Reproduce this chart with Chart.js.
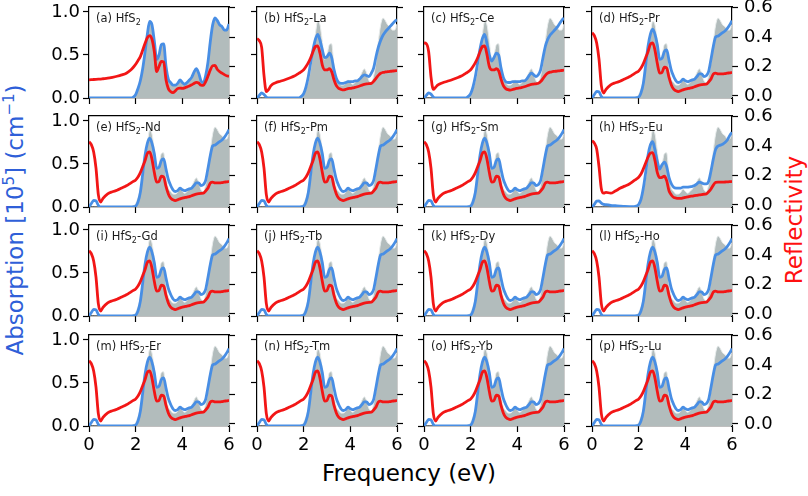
<!DOCTYPE html>
<html>
<head>
<meta charset="utf-8">
<script src="https://cdn.jsdelivr.net/npm/chart.js@4.4.1/dist/chart.umd.min.js"></script>
<style>
  body { margin: 0; background: #fff; }
  #wrap { position: relative; width: 808px; height: 496px; overflow: hidden; font-family: "DejaVu Sans", sans-serif; }
  #wrap canvas { position: absolute; }
  .lbl { position: absolute; font-size: 23px; line-height: 1; white-space: nowrap; transform: translate(-50%, -50%); }
  .rot { transform: translate(-50%, -50%) rotate(-90deg); }
  sup { font-size: 15px; line-height: 0; }
</style>
</head>
<body>
<div id="wrap">
  <div class="lbl rot" style="left:15px; top:220px; color:#2f5fd8">Absorption [10<sup>5</sup>] (cm<sup>−1</sup>)</div>
  <div class="lbl rot" style="left:794px; top:220px; color:#ff1010">Reflectivity</div>
  <div class="lbl" style="left:409px; top:473px; color:#000">Frequency (eV)</div>
</div>
<script>
// photon energy grid (eV)
const freq = [0, 0.1, 0.2, 0.3, 0.4, 0.5, 0.6, 0.8, 1.0, 1.2, 1.4, 1.6, 1.8, 1.9,
  2.0, 2.1, 2.2, 2.3, 2.4, 2.5, 2.6, 2.7, 2.8, 2.9,
  3.0, 3.1, 3.2, 3.3, 3.4, 3.5, 3.6, 3.7, 3.8, 3.9,
  4.0, 4.1, 4.2, 4.3, 4.4, 4.5, 4.6, 4.7, 4.8, 4.9,
  5.0, 5.1, 5.2, 5.3, 5.4, 5.5, 5.6, 5.7, 5.8, 5.9, 6.0];

// pristine HfS2 (grey area in every panel)
const hfs2Abs = [0, 0, 0, 0, 0, 0, 0, 0, 0, 0, 0, 0, 0, 0.01,
  0.04, 0.11, 0.2, 0.34, 0.53, 0.74, 0.89, 0.85, 0.66, 0.45,
  0.5, 0.62, 0.63, 0.37, 0.22, 0.18, 0.15, 0.15, 0.17, 0.21,
  0.18, 0.16, 0.18, 0.21, 0.24, 0.3, 0.34, 0.29, 0.2, 0.18,
  0.26, 0.42, 0.66, 0.85, 0.93, 0.9, 0.85, 0.83, 0.79, 0.79, 0.86];
const hfs2Refl = [0.11, 0.111, 0.112, 0.113, 0.114, 0.115, 0.117, 0.121, 0.127, 0.134, 0.143, 0.155, 0.178, 0.195,
  0.215, 0.24, 0.267, 0.31, 0.357, 0.395, 0.41, 0.385, 0.3, 0.165,
  0.2, 0.235, 0.23, 0.11, 0.05, 0.03, 0.023, 0.035, 0.05, 0.053,
  0.052, 0.055, 0.062, 0.068, 0.076, 0.085, 0.093, 0.088, 0.073, 0.072,
  0.097, 0.135, 0.177, 0.205, 0.207, 0.18, 0.165, 0.155, 0.145, 0.137, 0.133];

// La doped
const laAbs = [0, 0.03, 0.06, 0.04, 0.01, 0, 0, 0, 0, 0, 0, 0, 0, 0.02,
  0.05, 0.13, 0.25, 0.41, 0.56, 0.68, 0.74, 0.67, 0.56, 0.47,
  0.48, 0.52, 0.47, 0.33, 0.23, 0.18, 0.17, 0.17, 0.18, 0.19,
  0.19, 0.19, 0.2, 0.2, 0.22, 0.25, 0.27, 0.26, 0.25, 0.29,
  0.35, 0.48, 0.59, 0.67, 0.73, 0.77, 0.8, 0.83, 0.86, 0.89, 0.91];
const laRefl = [0.39, 0.375, 0.33, 0.14, 0.03, 0.045, 0.07, 0.09, 0.1, 0.11, 0.122, 0.135, 0.155, 0.165,
  0.178, 0.2, 0.226, 0.26, 0.3, 0.335, 0.34, 0.29, 0.21, 0.178,
  0.177, 0.185, 0.165, 0.11, 0.07, 0.052, 0.045, 0.041, 0.045, 0.05,
  0.052, 0.055, 0.058, 0.063, 0.068, 0.074, 0.079, 0.082, 0.084, 0.086,
  0.1, 0.12, 0.14, 0.154, 0.16, 0.163, 0.165, 0.167, 0.169, 0.171, 0.172];

// Ce doped
const ceAbs = [0, 0.03, 0.06, 0.045, 0.01, 0, 0, 0, 0, 0, 0, 0, 0, 0.02,
  0.05, 0.13, 0.25, 0.41, 0.57, 0.69, 0.74, 0.63, 0.5, 0.43,
  0.47, 0.52, 0.5, 0.35, 0.24, 0.19, 0.18, 0.18, 0.19, 0.19,
  0.19, 0.19, 0.2, 0.2, 0.22, 0.26, 0.29, 0.27, 0.25, 0.27,
  0.33, 0.47, 0.6, 0.68, 0.73, 0.76, 0.79, 0.82, 0.86, 0.9, 0.93];
const ceRefl = [0.36, 0.355, 0.3, 0.13, 0.045, 0.06, 0.075, 0.09, 0.1, 0.11, 0.122, 0.135, 0.155, 0.165,
  0.178, 0.2, 0.226, 0.26, 0.3, 0.335, 0.34, 0.28, 0.2, 0.178,
  0.177, 0.185, 0.17, 0.115, 0.07, 0.05, 0.043, 0.04, 0.044, 0.049,
  0.052, 0.055, 0.058, 0.063, 0.068, 0.074, 0.079, 0.081, 0.083, 0.086,
  0.098, 0.118, 0.14, 0.155, 0.162, 0.165, 0.167, 0.169, 0.171, 0.173, 0.175];

// Eu doped
const euAbs = [0, 0.03, 0.068, 0.07, 0.045, 0.03, 0.027, 0.02, 0.015, 0.01, 0.006, 0.005, 0.005, 0.01,
  0.03, 0.09, 0.22, 0.4, 0.6, 0.72, 0.76, 0.66, 0.53, 0.44,
  0.49, 0.52, 0.47, 0.345, 0.27, 0.23, 0.22, 0.22, 0.22, 0.23,
  0.23, 0.23, 0.235, 0.24, 0.25, 0.27, 0.29, 0.28, 0.27, 0.27,
  0.3, 0.42, 0.56, 0.67, 0.71, 0.72, 0.73, 0.75, 0.78, 0.83, 0.87];
const euRefl = [0.437, 0.42, 0.38, 0.26, 0.11, 0.08, 0.086, 0.08, 0.095, 0.113, 0.128, 0.143, 0.165, 0.176,
  0.188, 0.21, 0.245, 0.285, 0.324, 0.352, 0.355, 0.3, 0.22, 0.186,
  0.188, 0.195, 0.165, 0.097, 0.068, 0.052, 0.047, 0.045, 0.045, 0.048,
  0.052, 0.055, 0.059, 0.061, 0.064, 0.066, 0.068, 0.07, 0.073, 0.075,
  0.09, 0.109, 0.135, 0.154, 0.155, 0.155, 0.155, 0.156, 0.157, 0.158, 0.16];

// other lanthanides (Pr, Nd, Pm, Sm, Gd ... Lu) look alike
const lnAbs = [0, 0.04, 0.077, 0.07, 0.02, 0, 0, 0, 0, 0, 0, 0, 0, 0.005,
  0.01, 0.06, 0.17, 0.38, 0.6, 0.74, 0.8, 0.74, 0.62, 0.45,
  0.46, 0.54, 0.56, 0.44, 0.32, 0.25, 0.2, 0.18, 0.19, 0.22,
  0.2, 0.19, 0.2, 0.21, 0.22, 0.25, 0.28, 0.28, 0.25, 0.26,
  0.31, 0.45, 0.6, 0.71, 0.72, 0.74, 0.76, 0.78, 0.81, 0.85, 0.9];
const lnRefl = [0.43, 0.41, 0.36, 0.25, 0.07, 0.02, 0.045, 0.076, 0.09, 0.1, 0.115, 0.13, 0.15, 0.16,
  0.17, 0.19, 0.22, 0.26, 0.3, 0.35, 0.36, 0.31, 0.22, 0.155,
  0.16, 0.195, 0.19, 0.126, 0.075, 0.046, 0.035, 0.03, 0.035, 0.042,
  0.046, 0.05, 0.054, 0.057, 0.063, 0.069, 0.074, 0.077, 0.079, 0.08,
  0.095, 0.115, 0.15, 0.155, 0.15, 0.15, 0.15, 0.152, 0.155, 0.157, 0.16];

const panelLetters = ['a', 'b', 'c', 'd', 'e', 'f', 'g', 'h', 'i', 'j', 'k', 'l', 'm', 'n', 'o', 'p'];
const dopants = ['', 'La', 'Ce', 'Pr', 'Nd', 'Pm', 'Sm', 'Eu', 'Gd', 'Tb', 'Dy', 'Ho', 'Er', 'Tm', 'Yb', 'Lu'];
const panelAbs = [hfs2Abs, laAbs, ceAbs, lnAbs, lnAbs, lnAbs, lnAbs, euAbs,
  lnAbs, lnAbs, lnAbs, lnAbs, lnAbs, lnAbs, lnAbs, lnAbs];
const panelRefl = [hfs2Refl, laRefl, ceRefl, lnRefl, lnRefl, lnRefl, lnRefl, euRefl,
  lnRefl, lnRefl, lnRefl, lnRefl, lnRefl, lnRefl, lnRefl, lnRefl];

const freqTicks = [0, 2, 4, 6];
const absTicks = [0, 0.5, 1.0];
const reflTicks = [0, 0.2, 0.4, 0.6];

// layout of the 4x4 grid (plot areas)
const colLeft = [89, 257, 424, 592];
const rowTop = [7, 116, 225, 335];
const PLOT_W = 140, PLOT_H = 91;
const PAD_L = 50, PAD_R = 50, PAD_T = 12, PAD_B = 34;

const BLUE = 'rgb(72,142,228)';
const RED = 'rgb(242,22,22)';
const GREY = 'rgb(178,188,188)';
const TICK_FONT = { family: 'DejaVu Sans', size: 18 };

function toXY(arr) {
  return arr.map((v, i) => ({ x: freq[i], y: v }));
}

// label like "(b) HfS2-La" inside the top left corner
const panelTitle = {
  id: 'panelTitle',
  afterDraw(chart, args, opts) {
    const { ctx, chartArea } = chart;
    ctx.save();
    ctx.fillStyle = '#1a1a1a';
    ctx.textBaseline = 'alphabetic';
    let x = chartArea.left + 7;
    const y = chartArea.top + 14.5;
    const head = '(' + opts.letter + ') HfS';
    ctx.font = '11.5px "DejaVu Sans"';
    ctx.fillText(head, x, y);
    x += ctx.measureText(head).width;
    ctx.font = '8px "DejaVu Sans"';
    ctx.fillText('2', x, y + 3);
    x += ctx.measureText('2').width;
    if (opts.dopant) {
      ctx.font = '11.5px "DejaVu Sans"';
      ctx.fillText('-' + opts.dopant, x, y);
    }
    ctx.restore();
  }
};

const wrap = document.getElementById('wrap');

function axisLines() {
  return {
    grid: { drawOnChartArea: false, drawTicks: true, tickLength: 6, color: '#000', tickWidth: 1.2 },
    border: { display: true, color: '#000', width: 1.2 }
  };
}

for (let i = 0; i < 16; i++) {
  const r = Math.floor(i / 4), c = i % 4;
  const canvas = document.createElement('canvas');
  canvas.width = PLOT_W + PAD_L + PAD_R;
  canvas.height = PLOT_H + PAD_T + PAD_B;
  canvas.style.left = (colLeft[c] - PAD_L) + 'px';
  canvas.style.top = (rowTop[r] - PAD_T) + 'px';
  wrap.appendChild(canvas);

  new Chart(canvas, {
    type: 'line',
    data: {
      datasets: [
        {
          label: 'Reflectivity', data: toXY(panelRefl[i]), yAxisID: 'yR',
          borderColor: RED, borderWidth: 2.8, pointRadius: 0, fill: false,
          cubicInterpolationMode: 'monotone'
        },
        {
          label: 'Absorption', data: toXY(panelAbs[i]), yAxisID: 'yA',
          borderColor: BLUE, borderWidth: 2.8, pointRadius: 0, fill: false,
          cubicInterpolationMode: 'monotone'
        },
        {
          label: 'HfS2', data: toXY(hfs2Abs), yAxisID: 'yA',
          borderColor: 'rgb(232,236,236)', borderWidth: 1, pointRadius: 0,
          backgroundColor: GREY, fill: 'origin',
          cubicInterpolationMode: 'monotone'
        }
      ]
    },
    options: {
      responsive: false,
      animation: false,
      events: [],
      layout: { padding: { top: PAD_T, left: 0, right: 0, bottom: 0 } },
      plugins: {
        legend: { display: false },
        tooltip: { enabled: false },
        panelTitle: { letter: panelLetters[i], dopant: dopants[i] }
      },
      scales: {
        x: {
          type: 'linear', position: 'bottom', min: 0, max: 6,
          afterBuildTicks: s => { s.ticks = freqTicks.map(v => ({ value: v })); },
          afterFit: s => { s.height = PAD_B; s.paddingLeft = 0; s.paddingRight = 0; },
          ticks: { display: r === 3, padding: 3, font: TICK_FONT, color: '#000', maxRotation: 0, autoSkip: false },
          ...axisLines()
        },
        xTop: {
          type: 'linear', position: 'top', min: 0, max: 6,
          afterFit: s => { s.height = 0; s.paddingLeft = 0; s.paddingRight = 0; },
          ticks: { display: false },
          grid: { drawOnChartArea: false, drawTicks: false },
          border: { display: true, color: '#000', width: 1.2 }
        },
        yA: {
          type: 'linear', position: 'left', min: 0, max: 1.058,
          afterBuildTicks: s => { s.ticks = absTicks.map(v => ({ value: v })); },
          afterFit: s => { s.width = PAD_L; s.paddingTop = 0; s.paddingBottom = 0; },
          ticks: { display: c === 0, padding: 3, font: TICK_FONT, color: '#000', callback: v => v.toFixed(1) },
          ...axisLines()
        },
        yR: {
          type: 'linear', position: 'right', min: -0.0136, max: 0.604,
          afterBuildTicks: s => { s.ticks = reflTicks.map(v => ({ value: v })); },
          afterFit: s => { s.width = PAD_R; s.paddingTop = 0; s.paddingBottom = 0; },
          ticks: { display: c === 3, padding: 6, font: TICK_FONT, color: '#000', callback: v => v.toFixed(1) },
          ...axisLines()
        }
      }
    },
    plugins: [panelTitle]
  });
}
</script>
</body>
</html>
